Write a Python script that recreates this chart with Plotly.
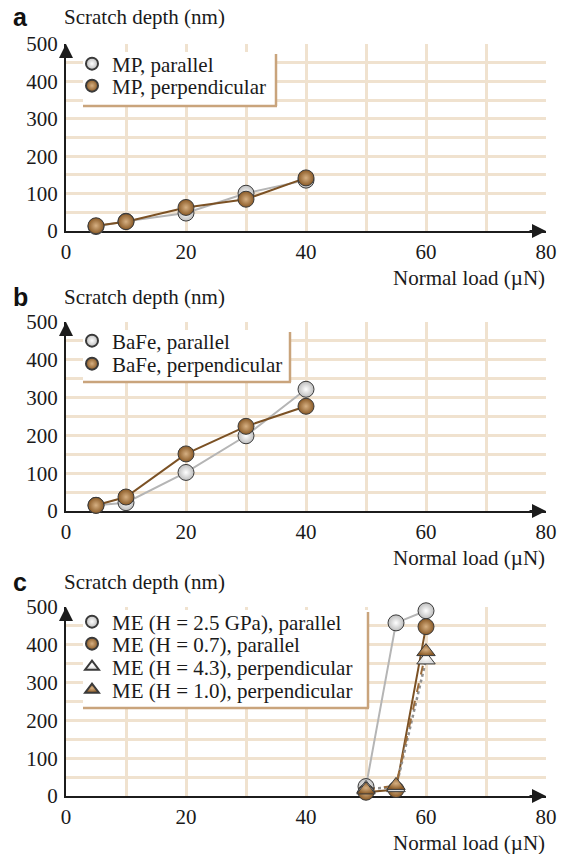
import plotly.graph_objects as go

# ---------------- data ----------------
mp_x = [5, 10, 20, 30, 40]
mp_par = [12, 26, 48, 101, 136]
mp_perp = [14, 25, 63, 85, 142]

bafe_x = [5, 10, 20, 30, 40]
bafe_par = [15, 22, 102, 199, 322]
bafe_perp = [15, 37, 151, 224, 277]

me_x = [50, 55, 60]
me_par_25 = [25, 458, 490]
me_par_07 = [10, 17, 448]
me_perp_43 = [20, 22, 360]
me_perp_10 = [16, 28, 382]

x_ticks = [0, 20, 40, 60, 80]
y_ticks = [0, 100, 200, 300, 400, 500]
x_grid = [10, 20, 30, 40, 50, 60, 70]
y_grid = [50, 100, 150, 200, 250, 300, 350, 400, 450]

# ---------------- style ----------------
W, H = 565, 854
SERIF = "Liberation Serif, Times New Roman, serif"
BROWN = "#8a5a26"
BROWN_C = "#d6b083"
BROWN_LINE = "#7b5124"
GREY = "#bdbdbd"
GREY_C = "#ffffff"
GREY_LINE = "#b5b5b5"
GRID = "#f0e2cf"
TAN = "#c9a47c"
AX = "#1c1c1c"
TXT = "#1a1a1a"


def px_x(p):
    return p / W


def px_y(p):
    return 1 - p / H


fig = go.Figure()

panels = [
    dict(name="a", yb=231, yt=44),
    dict(name="b", yb=511, yt=322),
    dict(name="c", yb=796, yt=607),
]
X0, X1 = 66, 546

axis_ids = ["", "2", "3"]
for i, p in enumerate(panels):
    sid = axis_ids[i]
    fig.update_layout(**{
        f"xaxis{sid}": dict(
            domain=[px_x(X0), px_x(X1)], range=[0, 80], anchor=f"y{sid}",
            tickvals=x_ticks, showgrid=False, zeroline=False, automargin=False,
            showline=True, linecolor=AX, linewidth=2, layer="below traces",
            ticks="", ticklabelstandoff=1,
            tickfont=dict(family=SERIF, size=21, color=TXT),
            minor=dict(tickvals=x_grid, showgrid=True, gridcolor=GRID, gridwidth=2.5, ticks=""),
            fixedrange=True,
        ),
        f"yaxis{sid}": dict(
            domain=[px_y(p["yb"]), px_y(p["yt"])], range=[0, 500], anchor=f"x{sid}",
            tickvals=y_ticks, showgrid=False, zeroline=False, automargin=False,
            showline=True, linecolor=AX, linewidth=2, layer="below traces",
            ticks="", ticklabelstandoff=2,
            tickfont=dict(family=SERIF, size=21, color=TXT),
            minor=dict(tickvals=y_grid, showgrid=True, gridcolor=GRID, gridwidth=2.5, ticks=""),
            fixedrange=True,
        ),
    })


def add_series(xv, yv, sid, name, legend, symbol, fill, center, line_color, dash, lw=2):
    xa = "x" + sid
    ya = "y" + sid
    fig.add_trace(go.Scatter(
        x=xv, y=yv, mode="lines", xaxis=xa, yaxis=ya, showlegend=False,
        line=dict(color=line_color, width=lw, dash=dash), cliponaxis=False,
        hoverinfo="skip",
    ))
    return dict(x=xv, y=yv, xa=xa, ya=ya, name=name, legend=legend,
                symbol=symbol, fill=fill, center=center)


marker_specs = []
marker_specs.append(add_series(mp_x, mp_par, "", "MP, parallel", "legend", "circle", GREY, GREY_C, GREY_LINE, "solid"))
marker_specs.append(add_series(mp_x, mp_perp, "", "MP, perpendicular", "legend2", "circle", BROWN, BROWN_C, BROWN_LINE, "solid"))
marker_specs.append(add_series(bafe_x, bafe_par, "2", "BaFe, parallel", "legend3", "circle", GREY, GREY_C, GREY_LINE, "solid"))
marker_specs.append(add_series(bafe_x, bafe_perp, "2", "BaFe, perpendicular", "legend4", "circle", BROWN, BROWN_C, BROWN_LINE, "solid"))
marker_specs.append(add_series(me_x, me_par_25, "3", "ME (H = 2.5 GPa), parallel", "legend5", "circle", GREY, GREY_C, GREY_LINE, "solid"))
marker_specs.append(add_series(me_x, me_par_07, "3", "ME (H = 0.7), parallel", "legend6", "circle", BROWN, BROWN_C, BROWN_LINE, "solid"))
marker_specs.append(add_series(me_x, me_perp_43, "3", "ME (H = 4.3), perpendicular", "legend7", "triangle-up", "#d8d8d8", "#ffffff", "#8f8f8f", "dot", 2.5))
marker_specs.append(add_series(me_x, me_perp_10, "3", "ME (H = 1.0), perpendicular", "legend8", "triangle-up", BROWN, BROWN_C, "#9a6b3a", "dash"))

for m in marker_specs:
    fig.add_trace(go.Scatter(
        x=m["x"], y=m["y"], mode="markers", xaxis=m["xa"], yaxis=m["ya"],
        name=m["name"], legend=m["legend"], showlegend=True, cliponaxis=False,
        marker=dict(symbol=m["symbol"], size=16, color=m["fill"],
                    gradient=dict(type="radial", color=m["center"]),
                    line=dict(color="#3a3a3a", width=1)),
    ))

rows = [64, 86, 341, 364, 622, 644, 667, 690]
leg_names = ["legend"] + [f"legend{i}" for i in range(2, 9)]
LEG_X = 94 - 20 - 2
for ln, ry in zip(leg_names, rows):
    fig.update_layout(**{ln: dict(
        x=px_x(LEG_X), y=px_y(ry), xanchor="left", yanchor="middle",
        xref="paper", yref="paper",
        bgcolor="rgba(0,0,0,0)", borderwidth=0,
        font=dict(family=SERIF, size=21, color=TXT),
        itemsizing="constant", itemclick=False, itemdoubleclick=False,
    )})

boxes = [(83, 276, 52, 106), (83, 290, 330, 382), (83, 368, 610, 708)]
shapes = []
for (bx0, bx1, by0, by1) in boxes:
    shapes.append(dict(type="rect", xref="paper", yref="paper",
                       x0=px_x(bx0), x1=px_x(bx1), y0=px_y(by1), y1=px_y(by0),
                       fillcolor="white", line=dict(width=0), layer="above"))
    shapes.append(dict(type="line", xref="paper", yref="paper",
                       x0=px_x(bx1), x1=px_x(bx1), y0=px_y(by0 + 2), y1=px_y(by1),
                       line=dict(color=TAN, width=2.5), layer="above"))
    shapes.append(dict(type="line", xref="paper", yref="paper",
                       x0=px_x(bx0), x1=px_x(bx1 + 1), y0=px_y(by1), y1=px_y(by1),
                       line=dict(color=TAN, width=2.5), layer="above"))

annotations = []
for i, p in enumerate(panels):
    sid = axis_ids[i]
    off = p["yb"] - 231
    annotations.append(dict(xref="x" + sid, yref="y" + sid, axref="x" + sid, ayref="y" + sid,
                            x=80, y=0, ax=77, ay=0, text="", showarrow=True,
                            arrowhead=2, arrowsize=1.4, arrowwidth=2, arrowcolor=AX))
    annotations.append(dict(xref="x" + sid, yref="y" + sid, axref="x" + sid, ayref="y" + sid,
                            x=0, y=500, ax=0, ay=470, text="", showarrow=True,
                            arrowhead=2, arrowsize=1.4, arrowwidth=2, arrowcolor=AX))
    annotations.append(dict(xref="paper", yref="paper", x=px_x(11), y=px_y(17 + off),
                            xanchor="left", yanchor="middle", showarrow=False,
                            text=f"<b>{p['name']}</b>",
                            font=dict(family="Liberation Sans, Arial, sans-serif", size=25, color="#111")))
    annotations.append(dict(xref="paper", yref="paper", x=px_x(62), y=px_y(17 + off),
                            xanchor="left", yanchor="middle", showarrow=False,
                            text="Scratch depth (nm)",
                            font=dict(family=SERIF, size=21, color=TXT)))
    annotations.append(dict(xref="paper", yref="paper", x=px_x(547), y=px_y(278 + off),
                            xanchor="right", yanchor="middle", showarrow=False,
                            text="Normal load (µN)",
                            font=dict(family=SERIF, size=21, color=TXT)))

fig.update_layout(
    template="none",
    width=W, height=H, margin=dict(l=0, r=0, t=0, b=0, pad=0, autoexpand=False),
    paper_bgcolor="white", plot_bgcolor="white",
    shapes=shapes, annotations=annotations,
    hovermode=False,
)

fig.write_html("out.html", config={"displayModeBar": False})
